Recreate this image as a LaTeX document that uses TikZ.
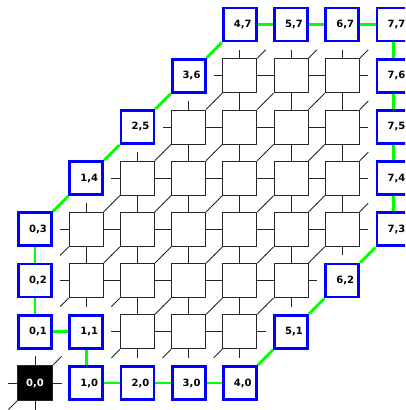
\documentclass[tikz,border=0pt]{standalone}
\usepackage{fontspec}
\setmainfont{DejaVu Sans}
\usetikzlibrary{positioning}

\begin{document}
\begin{tikzpicture}[
                x=51.2pt, y=51.2pt,
                cell/.style={draw=black!85, line width=0.9pt, rectangle, fill=white, minimum size=34pt, inner sep=0pt},
                rimcell/.style={draw=blue, line width=2.8pt, rectangle, fill=white, minimum size=33pt, inner sep=0pt, font=\bfseries\fontsize{10}{12}\selectfont, execute at begin node=\hspace*{6pt}},
                startcell/.style={cell, fill=black, text=white, minimum size=35pt, font=\bfseries\fontsize{10}{12}\selectfont},
                edge/.style={draw=black!85, line width=0.9pt},
                rim/.style={draw=green, line width=2.8pt}
            ]

            \path[use as bounding box] (-35pt,-27pt) rectangle (370pt,383pt);
            \clip (-35pt,-27pt) rectangle (370pt,383pt);

            % Zellen am Rand
            \node[startcell] (c00) at (0,0) {0,0};
            \node[rimcell] (c01) at (0,1) {0,1};
            \node[rimcell] (c02) at (0,2) {0,2};
            \node[rimcell] (c03) at (0,3) {0,3};
            \node[rimcell] (c14) at (1,4) {1,4};
            \node[rimcell] (c25) at (2,5) {2,5};
            \node[rimcell] (c36) at (3,6) {3,6};
            \node[rimcell] (c47) at (4,7) {4,7};
            \node[rimcell] (c57) at (5,7) {5,7};
            \node[rimcell] (c67) at (6,7) {6,7};
            \node[rimcell] (c77) at (7,7) {7,7};
            \node[rimcell] (c76) at (7,6) {7,6};
            \node[rimcell] (c75) at (7,5) {7,5};
            \node[rimcell] (c74) at (7,4) {7,4};
            \node[rimcell] (c73) at (7,3) {7,3};
            \node[rimcell] (c62) at (6,2) {6,2};
            \node[rimcell] (c51) at (5,1) {5,1};
            \node[rimcell] (c40) at (4,0) {4,0};
            \node[rimcell] (c30) at (3,0) {3,0};
            \node[rimcell] (c20) at (2,0) {2,0};
            \node[rimcell] (c10) at (1,0) {1,0};
            \node[rimcell] (c11) at (1,1) {1,1};

            % innere Zellen
            \foreach \i/\jlo/\jhi in {1/2/3, 2/1/4, 3/1/5, 4/1/6, 5/2/6, 6/3/6}
                \foreach \j in {\jlo,...,\jhi}
                    \node[cell] (c\i\j) at (\i,\j) {};

            % halbe Kanten an den Zellen
            \foreach \i/\jlo/\jhi in {0/0/0, 1/2/3, 2/1/4, 3/1/5, 4/1/6, 5/2/6, 6/3/6}
                \foreach \j in {\jlo,...,\jhi}
                    \foreach \a/\dx/\dy in {east/1/0, west/-1/0, north/0/1, south/0/-1, north east/1/1, south west/-1/-1}
                        \draw[edge] (c\i\j.\a) -- ++(\dx*8.6pt, \dy*8.6pt);

            % Rand
            \foreach \a/\b in {01/11, 11/10, 10/20, 20/30, 30/40, 40/51, 51/62, 62/73, 73/74, 74/75, 75/76, 76/77,
                               77/67, 67/57, 57/47, 47/36, 36/25, 25/14, 14/03, 03/02, 02/01}
                \draw[rim] (c\a) -- (c\b);

        \end{tikzpicture}
\end{document}
